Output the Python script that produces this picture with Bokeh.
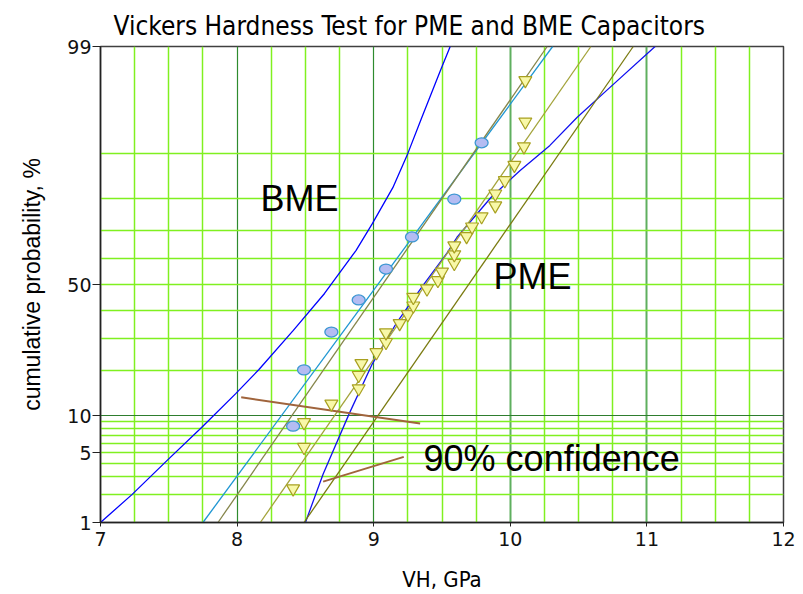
from statistics import NormalDist
from bokeh.plotting import figure
from bokeh.models import (Range1d, FixedTicker, Grid, Label,
                          CustomJSTickFormatter)
from bokeh.embed import file_html
from bokeh.resources import INLINE

# ---------------- data ----------------
# BME specimens: Vickers hardness (GPa) and cumulative probability (%)
bme_vh = [8.41, 8.49, 8.69, 8.89, 9.09, 9.28, 9.59, 9.79]
bme_pct = [8.3, 20.2, 32.1, 44.0, 56.0, 67.9, 79.8, 91.7]

# PME specimens
pme_vh = [8.41, 8.49, 8.49, 8.69, 8.89, 8.89, 8.91, 9.02, 9.09, 9.09,
          9.19, 9.25, 9.29, 9.29, 9.39, 9.47, 9.50, 9.59, 9.59, 9.59,
          9.68, 9.72, 9.79, 9.89, 9.89, 9.96, 10.03, 10.10, 10.11, 10.11]
pme_pct = [2.30, 5.59, 8.88, 12.17, 15.46, 18.75, 22.04, 25.33, 28.62, 31.91,
           35.20, 38.49, 41.78, 45.07, 48.36, 51.64, 54.93, 58.22, 61.51, 64.80,
           68.09, 71.38, 74.67, 77.96, 81.25, 84.54, 87.83, 91.12, 94.41, 97.70]

# fitted lines: VH at 1 % and at 99 %
line_pct = [1.0, 99.0]
bme_fit_vh = [7.75, 10.31]
pme_bound1_vh = [7.86, 10.27]
pme_fit_vh = [8.17, 10.59]
pme_bound2_vh = [8.49, 10.90]

# curved confidence bounds
left_curve_vh = [7.00, 7.23, 7.49, 7.74, 7.99, 8.16, 8.41, 8.64, 8.87, 8.99,
                 9.14, 9.25, 9.35, 9.49, 9.56]
left_curve_pct = [1.0, 2.0, 4.3, 8.1, 14.3, 20.3, 32.6, 46.5, 63.0, 72.4,
                  82.8, 90.0, 94.8, 98.2, 99.0]
right_curve_vh = [8.50, 8.63, 8.82, 8.99, 9.17, 9.36, 9.54, 9.61, 9.86, 10.07,
                  10.29, 10.49, 10.73, 11.06]
right_curve_pct = [1.0, 3.2, 10.3, 21.9, 35.6, 49.6, 62.3, 67.8, 80.3, 86.7,
                   91.3, 94.9, 97.3, 99.0]

# pointer lines for the "90% confidence" note
pointer_upper_vh = [8.03, 9.34]
pointer_upper_pct = [13.5, 8.7]
pointer_lower_vh = [8.63, 9.22]
pointer_lower_pct = [2.7, 4.6]

x_tick_values = [7, 8, 9, 10, 11, 12]
y_tick_pct = [1, 5, 10, 50, 99]
y_tick_labels = ["1", "5", "10", "50", "99"]
y_grid_pct = [2, 3, 4, 5, 6, 7, 8, 9, 20, 30, 40, 50, 60, 70, 80, 90]
y_grid_dark_pct = [10]

# ---------------- helpers ----------------
nd = NormalDist()


def zz(pcts):
    return [nd.inv_cdf(v / 100.0) for v in pcts]


LIGHT_GREEN = "#80F020"
NARROW = "DejaVu Sans Condensed"

p = figure(width=803, height=594,
           x_range=Range1d(7, 12), y_range=Range1d(nd.inv_cdf(0.01), nd.inv_cdf(0.99)),
           output_backend="svg", toolbar_location=None,
           min_border_left=100, min_border_right=20,
           min_border_top=46, min_border_bottom=72)
p.title.text = "Vickers Hardness Test for PME and BME Capacitors"
p.title.align = "left"
p.title.text_font = NARROW
p.title.text_font_size = "26px"
p.title.text_font_style = "normal"
p.title.text_color = "black"
p.title.standoff = 12
p.title.offset = 13

p.background_fill_color = "white"
p.border_fill_color = "white"
p.outline_line_color = "#404040"
p.outline_line_width = 1.5
p.xgrid.grid_line_color = None
p.ygrid.grid_line_color = None

# grids
x_minor = [7 + 0.25 * k for k in range(1, 20) if k % 4 != 0]
p.add_layout(Grid(dimension=0, ticker=FixedTicker(ticks=x_minor),
                  grid_line_color=LIGHT_GREEN, grid_line_width=1.5))
p.add_layout(Grid(dimension=0, ticker=FixedTicker(ticks=[8, 9]),
                  grid_line_color="#2E8B2E", grid_line_width=1.2))
p.add_layout(Grid(dimension=0, ticker=FixedTicker(ticks=[10, 11]),
                  grid_line_color="#5FAF5F", grid_line_width=2))
p.add_layout(Grid(dimension=1, ticker=FixedTicker(ticks=zz(y_grid_pct)),
                  grid_line_color=LIGHT_GREEN, grid_line_width=1.5))
p.add_layout(Grid(dimension=1, ticker=FixedTicker(ticks=zz(y_grid_dark_pct)),
                  grid_line_color="#2E7D2E", grid_line_width=1.2))

# axes
p.xaxis.ticker = FixedTicker(ticks=x_tick_values)
p.yaxis.ticker = FixedTicker(ticks=zz(y_tick_pct))
p.yaxis.formatter = CustomJSTickFormatter(
    args=dict(zs=zz(y_tick_pct), labs=y_tick_labels),
    code="""
    for (let i = 0; i < zs.length; i++) {
        if (Math.abs(zs[i] - tick) < 1e-6) { return labs[i]; }
    }
    return "";
    """)
for ax in (p.xaxis, p.yaxis):
    ax.axis_line_color = "#222222"
    ax.axis_line_width = 1.5
    ax.major_tick_line_color = "#222222"
    ax.minor_tick_line_color = None
    ax.major_tick_in = 0
    ax.major_label_text_font = "DejaVu Sans"
    ax.major_label_text_font_size = "19px"
    ax.major_label_text_color = "#111111"
    ax.axis_label_text_color = "black"
    ax.axis_label_text_font_style = "normal"
p.xaxis.major_tick_out = 4
p.xaxis.major_label_standoff = 5
p.yaxis.major_tick_out = 8
p.yaxis.major_label_standoff = 1

p.xaxis.axis_label = "VH, GPa"
p.xaxis.axis_label_text_font = NARROW
p.xaxis.axis_label_text_font_size = "22px"
p.xaxis.axis_label_standoff = 18
p.yaxis.axis_label = "cumulative probability, %"
p.yaxis.axis_label_text_font = "Liberation Sans"
p.yaxis.axis_label_text_font_size = "23px"
p.yaxis.axis_label_standoff = 19

# lines
p.line(left_curve_vh, zz(left_curve_pct), line_color="#0000FF", line_width=1.3)
p.line(right_curve_vh, zz(right_curve_pct), line_color="#1010F0", line_width=1.3)
p.line(bme_fit_vh, zz(line_pct), line_color="#1E96D2", line_width=1.3)
p.line(pme_bound1_vh, zz(line_pct), line_color="#85854A", line_width=1.3)
p.line(pme_fit_vh, zz(line_pct), line_color="#A3A33A", line_width=1.3)
p.line(pme_bound2_vh, zz(line_pct), line_color="#7A7A10", line_width=1.3)
p.line(pointer_upper_vh, zz(pointer_upper_pct), line_color="#A0643C", line_width=2)
p.line(pointer_lower_vh, zz(pointer_lower_pct), line_color="#A0643C", line_width=2)

# markers
p.ellipse(bme_vh, zz(bme_pct), width=13, height=10,
          width_units="screen", height_units="screen",
          fill_color="#B4BCF2", line_color="#3C96D2", line_width=1.3)
p.scatter(pme_vh, zz(pme_pct), marker="inverted_triangle", size=13,
          fill_color="#F8F8A8", line_color="#A8A020", line_width=1.2)


# in-plot texts
def add_label(x, y, text, size):
    p.add_layout(Label(x=x, y=y, text=text, text_font="Liberation Sans",
                       text_font_size=size, text_color="black",
                       text_align="left", text_baseline="alphabetic"))


add_label(8.171, 0.841, "BME", "36px")
add_label(9.877, 0.078, "PME", "36px")
add_label(9.365, -1.701, "90% confidence", "36px")

open("out.html", "w").write(file_html(p, INLINE))
